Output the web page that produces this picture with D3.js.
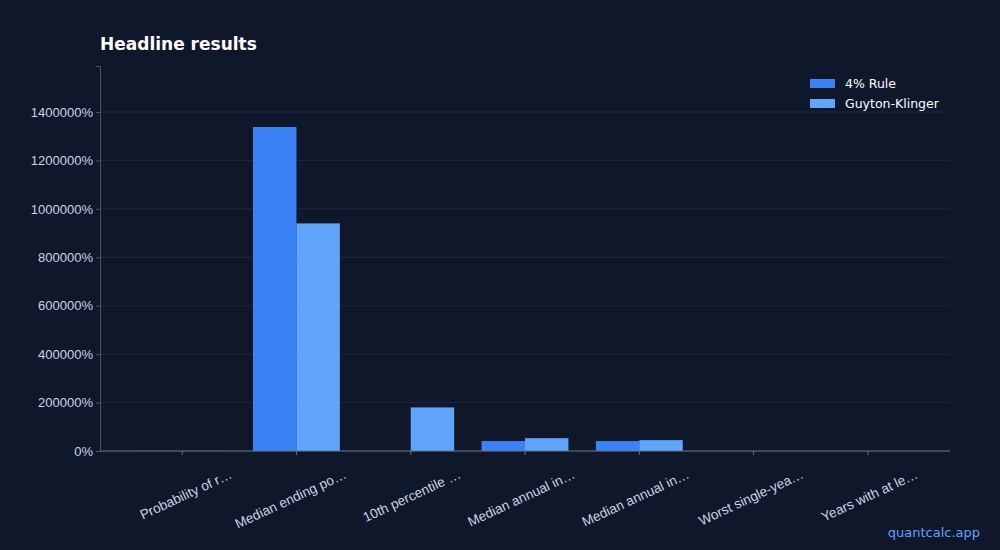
<!DOCTYPE html><html><head><meta charset="utf-8">
<script src="https://cdn.jsdelivr.net/npm/d3@7"></script>
<style>body{margin:0;background:#0f172a;font-family:"DejaVu Sans",sans-serif}</style></head>
<body><svg id="c" width="1000" height="550"></svg><script>
const categories=["Probability of r…","Median ending po…","10th percentile …","Median annual in…","Median annual in…","Worst single-yea…","Years with at le…"];
const seriesNames=["4% Rule","Guyton-Klinger"];
const rule4=[95,1338000,0,41000,41000,-20,3];
const gk=[98,940000,180000,53000,45000,-15,2];
const colors=["#3b82f6","#60a5fa"];
const yTicks=[0,200000,400000,600000,800000,1000000,1200000,1400000];
const svg=d3.select("#c");
svg.append("rect").attr("width",1000).attr("height",550).attr("fill","#0f172a");
const m={l:100,r:950,t:66,b:451};
const x0=d3.scaleBand().domain(categories.map((d,i)=>i)).range([125,925]).paddingInner(0.24).paddingOuter(0.12);
const x1=d3.scaleBand().domain([0,1]).range([0,x0.bandwidth()]);
const y=d3.scaleLinear().domain([0,1590000]).range([m.b,m.t]);
const g=svg.append("g");
g.selectAll("line.grid").data(yTicks).join("line").attr("x1",m.l).attr("x2",m.r).attr("y1",d=>y(d)).attr("y2",d=>y(d)).attr("stroke","#1e293b").attr("stroke-width",1);
[rule4,gk].forEach((s,si)=>{
 g.selectAll(null).data(s).join("rect").attr("x",(d,i)=>x0(i)+x1(si)).attr("width",x1.bandwidth())
  .attr("y",d=>y(Math.max(0,d))).attr("height",d=>Math.abs(y(d)-y(0))).attr("fill",colors[si]);
});
const ya=svg.append("g").attr("transform",`translate(${m.l},0)`).call(d3.axisLeft(y).tickValues(yTicks).tickFormat(d=>d+"%").tickSize(4));
ya.select(".domain").attr("stroke","#475569");
ya.selectAll("line").attr("stroke","#475569");
ya.selectAll("text").attr("fill","#cbd5e1").attr("font-size",13);
svg.append("line").attr("x1",m.l).attr("x2",m.r).attr("y1",m.b).attr("y2",m.b).attr("stroke","#64748b");
const xa=svg.append("g").attr("transform",`translate(0,${m.b})`).call(d3.axisBottom(x0).tickFormat(i=>categories[i]).tickSize(4).tickSizeOuter(0));
xa.select(".domain").remove();
xa.selectAll("line").attr("stroke","#64748b");
xa.selectAll("text").attr("fill","#cbd5e1").attr("font-size",13.5).attr("text-anchor","end").attr("transform","translate(46,16) rotate(-25)").attr("dy","0.35em");
svg.append("text").attr("x",100).attr("y",50).text("Headline results").attr("fill","#fff").attr("font-size",17).attr("font-weight","bold");
const lg=svg.append("g");
seriesNames.forEach((n,i)=>{
 lg.append("rect").attr("x",810).attr("y",79+i*20).attr("width",25).attr("height",9).attr("fill",colors[i]);
 lg.append("text").attr("x",845).attr("y",88+i*20).text(n).attr("fill","#fff").attr("font-size",12.5);
});
svg.append("text").attr("x",980).attr("y",537).attr("text-anchor","end").text("quantcalc.app").attr("fill","#60a5fa").attr("font-size",13);
</script></body></html>
